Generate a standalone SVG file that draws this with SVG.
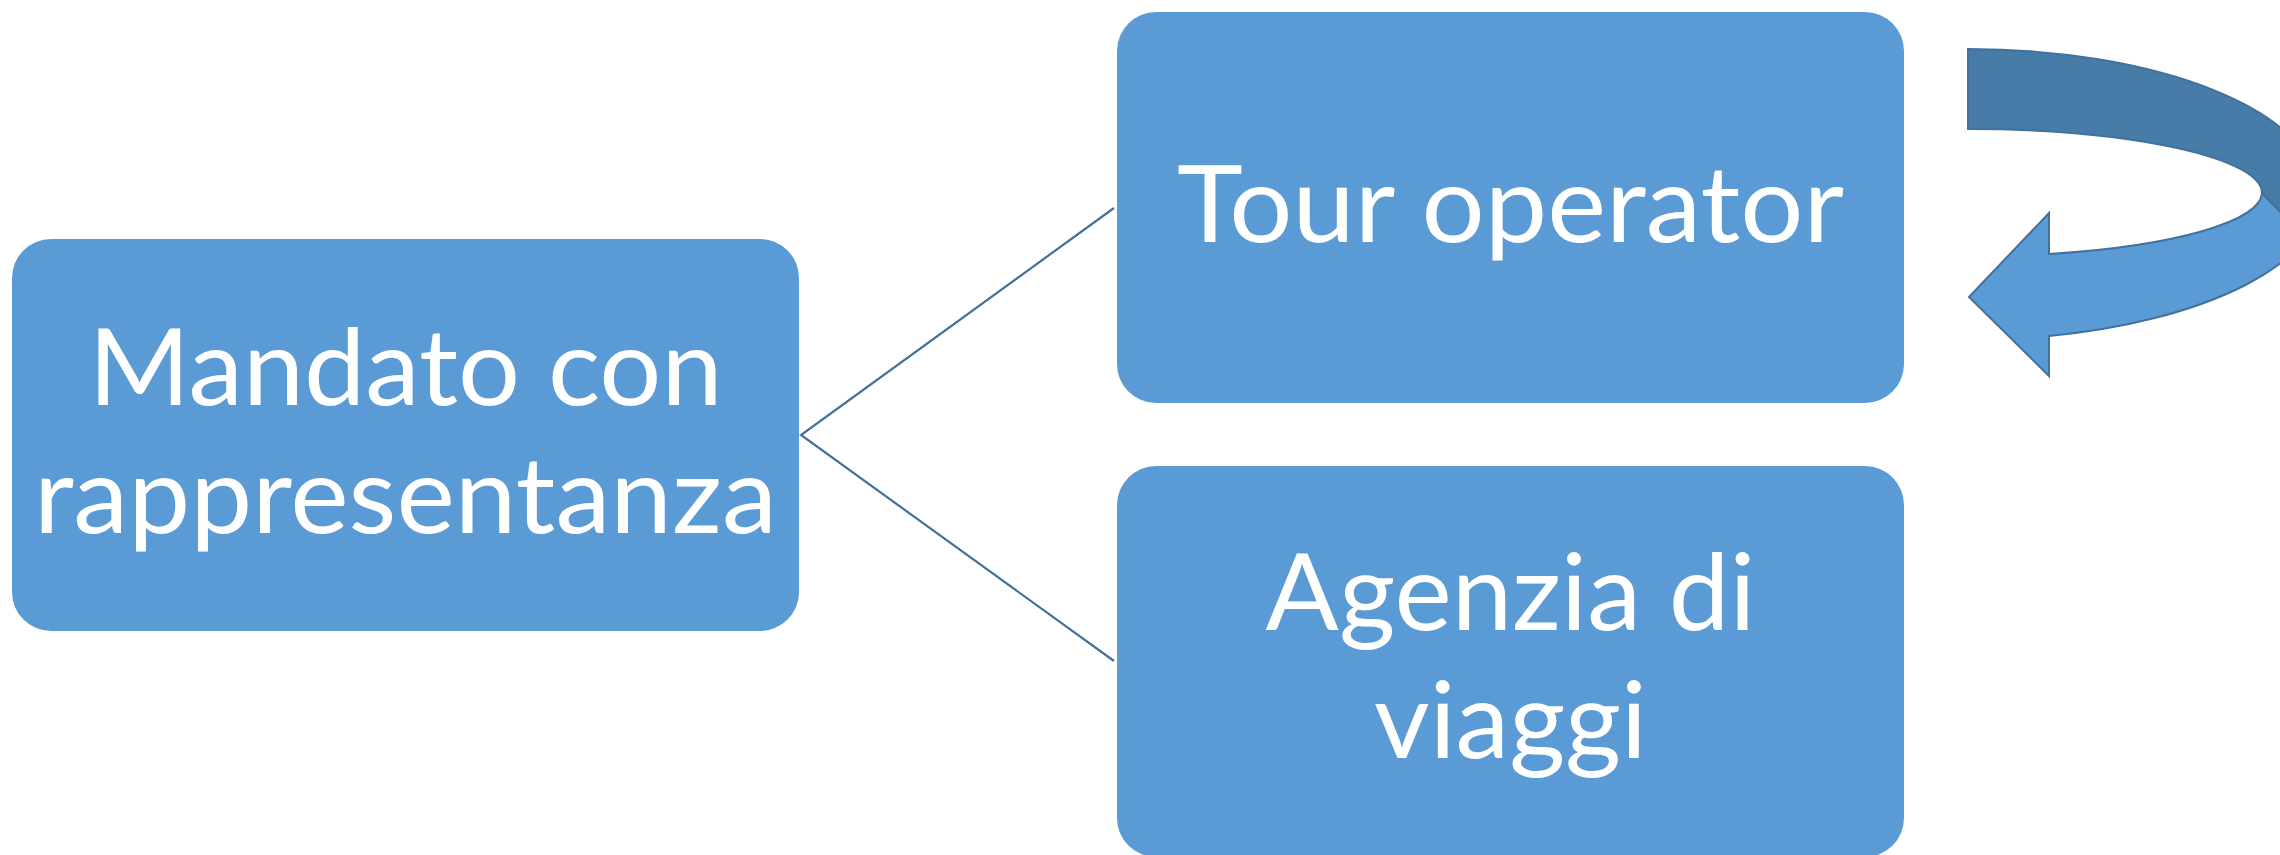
<svg xmlns="http://www.w3.org/2000/svg" width="2280" height="855" viewBox="0 0 2280 855">
<style>
.box{fill:#5B9BD5;}
.lbl{fill:#FFFFFF;font-family:Lato,"Open Sans","Liberation Sans",sans-serif;font-size:106px;text-anchor:middle;}
.conn{stroke:#41719C;stroke-width:2.2;fill:none;}
.arr{stroke:#41719C;stroke-width:2;stroke-linejoin:miter;}
</style>
<rect width="2280" height="855" fill="#FFFFFF"/>
<g id="connectors">
<polyline class="conn" points="1114,208 801,435 1114,661"/>
</g>
<g id="mandato">
<rect class="box" x="12" y="239" width="787" height="392" rx="39" ry="39"/>
<text class="lbl" x="405.5" y="405" textLength="634" lengthAdjust="spacingAndGlyphs">Mandato con</text>
<text class="lbl" x="405.5" y="533" textLength="743" lengthAdjust="spacingAndGlyphs">rappresentanza</text>
</g>
<g id="tour-operator">
<rect class="box" x="1117" y="12" width="787" height="391" rx="39" ry="39"/>
<text class="lbl" x="1510.5" y="242" textLength="667" lengthAdjust="spacingAndGlyphs">Tour operator</text>
</g>
<g id="agenzia">
<rect class="box" x="1117" y="466" width="787" height="391" rx="39" ry="39"/>
<text class="lbl" x="1510.5" y="630" textLength="490" lengthAdjust="spacingAndGlyphs">Agenzia di</text>
<text class="lbl" x="1510.5" y="758" textLength="273" lengthAdjust="spacingAndGlyphs">viaggi</text>
</g>
<g id="curved-arrow">
<path class="arr" fill="#5B9BD5" d="M2262,193 A294,64 0 0 1 2049,254 L2049,213 L1969,297 L2049,376 L2049,336 A355,146 0 0 0 2323,195 L2320,252 Z"/>
<path class="arr" fill="#477BA8" d="M1968,49 A350,143 0 0 1 2318,192 L2320,252 L2262,193 A294,64 0 0 0 1968,129 Z"/>
</g>
</svg>
